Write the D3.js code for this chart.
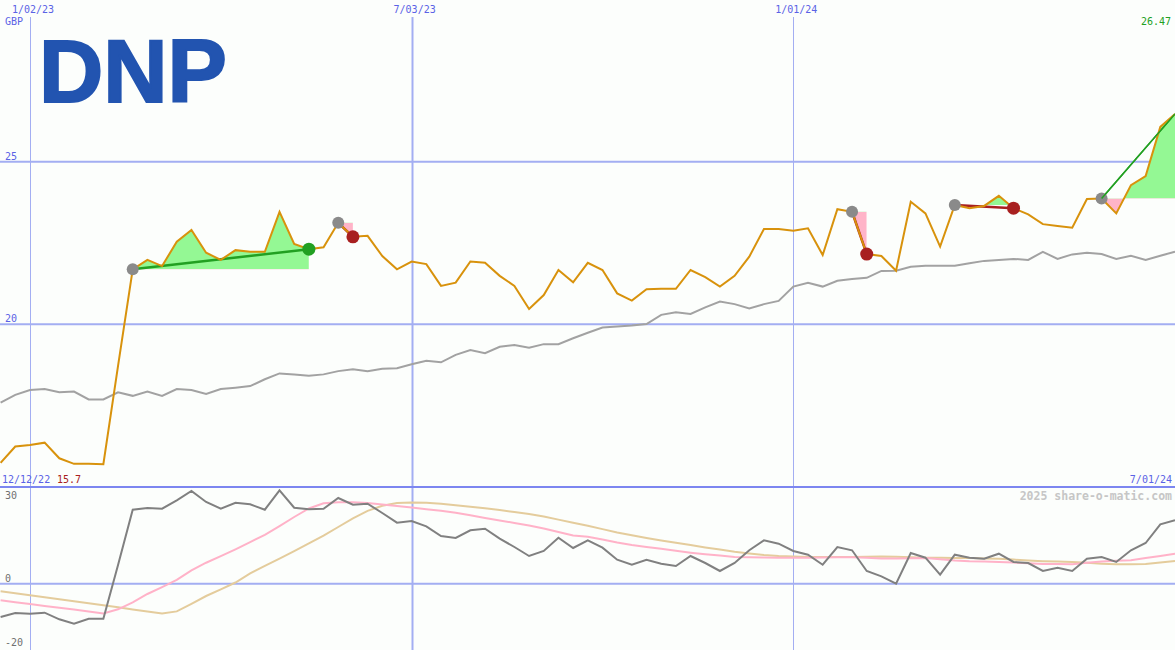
<!DOCTYPE html>
<html><head><meta charset="utf-8">
<script src="https://cdn.jsdelivr.net/npm/d3@7"></script>
<style>body{margin:0;background:#fcfefc} svg{display:block}</style>
</head><body><div id="chart"></div>
<script>
const ticker = "DNP";
const currency = "GBP";
const startDate = new Date(2022,11,19);
const endDate = new Date(2024,6,1);
const firstLabelDate = new Date(2022,11,12);
const gridDates = [new Date(2023,0,2), new Date(2023,6,3), new Date(2024,0,1)];
const priceTicks = [20,25];
const oscTicks = [30,0,-20];
const price = [15.74,16.24,16.29,16.36,15.88,15.71,15.71,15.70,18.72,21.69,
21.98,21.79,22.54,22.90,22.20,21.98,22.28,22.23,22.23,23.46,
22.47,22.31,22.37,23.12,22.69,22.72,22.10,21.69,21.93,21.85,
21.18,21.28,21.93,21.89,21.49,21.18,20.47,20.90,21.67,21.29,
21.89,21.67,20.95,20.73,21.08,21.09,21.09,21.67,21.45,21.16,
21.49,22.08,22.93,22.93,22.88,22.95,22.13,23.54,23.46,22.16,
22.10,21.65,23.77,23.41,22.39,23.67,23.57,23.64,23.95,23.57,
23.38,23.08,23.02,22.97,23.85,23.87,23.41,24.28,24.56,26.07,26.47];
const priceMA = [17.59,17.83,17.98,18.01,17.91,17.93,17.69,17.69,17.91,17.80,
17.93,17.80,18.01,17.98,17.86,18.01,18.05,18.10,18.31,18.49,
18.46,18.42,18.46,18.56,18.62,18.56,18.63,18.65,18.77,18.88,
18.83,19.06,19.21,19.11,19.31,19.36,19.28,19.39,19.39,19.57,
19.74,19.90,19.93,19.96,20.01,20.29,20.37,20.32,20.52,20.70,
20.62,20.49,20.62,20.72,21.16,21.28,21.16,21.34,21.39,21.43,
21.64,21.65,21.77,21.80,21.80,21.80,21.88,21.95,21.98,22.01,
21.98,22.23,22.01,22.15,22.20,22.16,22.01,22.11,21.98,22.11,22.23];
const osc = [-10.5,-9.24,-9.46,-9.15,-11.23,-12.62,-11.04,-11.04,5.9,23.34,
23.88,23.66,26.31,29.24,25.77,23.66,25.55,25.05,23.34,29.46,
23.97,23.47,23.66,27.03,24.92,25.24,22.30,19.24,19.78,18.11,
15.05,14.42,16.85,17.35,14.20,11.58,8.74,10.32,14.51,11.26,
13.69,11.36,7.57,5.99,7.57,6.31,5.58,8.74,6.53,4.01,
6.53,10.54,13.69,12.62,10.32,9.15,5.99,11.58,10.54,4.01,
2.33,0,9.68,8.20,2.84,9.15,8.20,7.89,9.46,6.85,
6.53,4.01,5.05,4.01,7.89,8.42,6.85,10.54,12.84,18.74,20.0];
const oscFast = [-5.24,-5.84,-6.42,-7.00,-7.60,-8.17,-8.77,-9.37,-8.08,-5.90,
-3.25,-1.07,1.20,4.23,6.62,8.68,10.85,13.12,15.43,18.17,
21.04,23.72,25.39,25.68,25.68,25.46,25.02,24.51,24.01,23.50,
23.00,22.40,21.58,20.76,19.94,19.18,18.39,17.41,16.31,15.24,
14.79,13.94,13.00,12.24,11.61,11.01,10.38,9.78,9.27,8.86,
8.45,8.36,8.26,8.20,8.20,8.20,8.26,8.36,8.36,8.17,
7.95,7.95,8.04,8.08,7.73,7.35,7.10,6.97,6.85,6.66,
6.44,6.25,6.18,6.12,6.59,6.97,7.22,7.38,8.08,8.77,9.46];
const oscSlow = [-2.40,-3.03,-3.66,-4.29,-4.89,-5.52,-6.15,-6.78,-7.44,-8.11,
-8.77,-9.43,-8.74,-6.37,-3.88,-1.80,0.38,3.25,5.62,7.89,
10.25,12.71,15.17,17.89,20.63,22.97,24.57,25.46,25.62,25.55,
25.20,24.73,24.26,23.82,23.22,22.59,21.99,21.23,20.22,19.24,
18.26,17.22,16.18,15.27,14.45,13.66,12.90,12.18,11.45,10.76,
10.06,9.53,9.05,8.71,8.58,8.45,8.42,8.42,8.45,8.52,
8.61,8.52,8.36,8.20,8.17,8.14,8.08,7.98,7.89,7.60,
7.32,7.10,6.97,6.88,6.59,6.31,6.12,6.12,6.25,6.72,7.16];
const tradeStart = [9,23,58,65,75];
const tradeEnd = [21,24,59,69,80];
const tradeOpen = [false,false,false,false,true];
const watermark = "2025 share-o-matic.com";

const W = 1175, H = 650;
const dates = d3.timeMonday.range(startDate, d3.timeDay.offset(endDate, 1));
const fmt = d3.timeFormat("%-m/%d/%y");

const x = d3.scaleTime().domain([startDate, endDate]).range([0.6, W]);
const yP = d3.scaleLinear().domain([20, 25]).range([324.3, 161.7]);
const yO = d3.scaleLinear().domain([0, 30]).range([583.7, 488.6]);

const svg = d3.select("#chart").append("svg").attr("width", W).attr("height", H);
svg.append("rect").attr("width", W).attr("height", H).attr("fill", "#fcfefc");

const defs = svg.append("defs");
defs.append("clipPath").attr("id", "topClip").append("rect").attr("x", 0).attr("y", 0).attr("width", W).attr("height", 486);
defs.append("clipPath").attr("id", "botClip").append("rect").attr("x", 0).attr("y", 488).attr("width", W).attr("height", H - 488);

const gridCol = "#a3aef2";
const mono = "'DejaVu Sans Mono', monospace";
const blue = "#5a62e6";

// vertical grid lines
svg.append("g").selectAll("line").data(gridDates).join("line")
  .attr("x1", d => Math.round(x(d)) + 0.5).attr("x2", d => Math.round(x(d)) + 0.5)
  .attr("y1", 17).attr("y2", H)
  .attr("stroke", gridCol).attr("stroke-width", (d, i) => i === 1 ? 2 : 1);

// horizontal price grid
svg.append("g").selectAll("line").data(priceTicks).join("line")
  .attr("x1", 0).attr("x2", W).attr("y1", d => yP(d)).attr("y2", d => yP(d))
  .attr("stroke", gridCol).attr("stroke-width", 2);

// zero line in oscillator panel
svg.append("line").attr("x1", 0).attr("x2", W).attr("y1", yO(0)).attr("y2", yO(0))
  .attr("stroke", gridCol).attr("stroke-width", 2);

// separator
svg.append("line").attr("x1", 0).attr("x2", W).attr("y1", 487).attr("y2", 487)
  .attr("stroke", "#7c86f0").attr("stroke-width", 2);

// trade fills
const gTop = svg.append("g").attr("clip-path", "url(#topClip)");
tradeStart.forEach((s, t) => {
  const e = tradeEnd[t];
  const base = price[s];
  const idx = d3.range(s, e + 1);
  const area = d3.area().x(i => x(dates[i])).y0(yP(base)).y1(i => yP(price[i]));
  const xa = x(dates[s]), xb = x(dates[e]);
  defs.append("clipPath").attr("id", "up" + t).append("rect")
    .attr("x", xa).attr("y", 0).attr("width", xb - xa).attr("height", yP(base));
  defs.append("clipPath").attr("id", "dn" + t).append("rect")
    .attr("x", xa).attr("y", yP(base)).attr("width", xb - xa).attr("height", 487 - yP(base));
  gTop.append("path").attr("d", area(idx)).attr("fill", "#94f894").attr("clip-path", `url(#up${t})`);
  gTop.append("path").attr("d", area(idx)).attr("fill", "#ffb4c8").attr("clip-path", `url(#dn${t})`);
});

const lineP = d => d3.line().x((v, i) => x(dates[i])).y(v => yP(v))(d);
gTop.append("path").attr("d", lineP(priceMA)).attr("fill", "none").attr("stroke", "#a2a2a2").attr("stroke-width", 2);

// trade lines (under the price line)
tradeStart.forEach((s, t) => {
  const e = tradeEnd[t];
  const win = price[e] >= price[s];
  const col = win ? "#22a022" : "#a82020";
  gTop.append("line").attr("x1", x(dates[s])).attr("y1", yP(price[s]))
    .attr("x2", x(dates[e])).attr("y2", yP(price[e]))
    .attr("stroke", col).attr("stroke-width", tradeOpen[t] ? 1.5 : (win ? 2.5 : 2.5));
});

gTop.append("path").attr("d", lineP(price)).attr("fill", "none").attr("stroke", "#d8920c").attr("stroke-width", 2);

// trade dots
tradeStart.forEach((s, t) => {
  const e = tradeEnd[t];
  const win = price[e] >= price[s];
  gTop.append("circle").attr("cx", x(dates[s])).attr("cy", yP(price[s])).attr("r", 6).attr("fill", "#8a8a8a");
  if (!tradeOpen[t]) {
    gTop.append("circle").attr("cx", x(dates[e])).attr("cy", yP(price[e])).attr("r", 6.5)
      .attr("fill", win ? "#22a022" : "#a82020");
  }
});
// open trade line on top
tradeStart.forEach((s, t) => {
  if (!tradeOpen[t]) return;
  const e = tradeEnd[t];
  gTop.append("line").attr("x1", x(dates[s])).attr("y1", yP(price[s]))
    .attr("x2", x(dates[e])).attr("y2", yP(price[e]))
    .attr("stroke", "#22a022").attr("stroke-width", 1.5);
});

// oscillator panel
const gBot = svg.append("g").attr("clip-path", "url(#botClip)");
const lineO = d => d3.line().x((v, i) => x(dates[i])).y(v => yO(v))(d);
gBot.append("path").attr("d", lineO(oscSlow)).attr("fill", "none").attr("stroke", "#e4cc9c").attr("stroke-width", 2);
gBot.append("path").attr("d", lineO(oscFast)).attr("fill", "none").attr("stroke", "#ffb2c8").attr("stroke-width", 2);
gBot.append("path").attr("d", lineO(osc)).attr("fill", "none").attr("stroke", "#808080").attr("stroke-width", 2);

// texts
svg.append("g").selectAll("text").data(gridDates).join("text")
  .attr("x", d => x(d) + 3).attr("y", 13).attr("text-anchor", "middle")
  .attr("font-family", mono).attr("font-size", 10).attr("fill", blue).text(d => fmt(d));
svg.append("text").attr("x", 5).attr("y", 25).attr("font-family", mono).attr("font-size", 10).attr("fill", blue).text(currency);
svg.append("text").attr("x", 39).attr("y", 101.5).attr("font-family", "'Liberation Sans', Arial, sans-serif")
  .attr("font-weight", "bold").attr("font-size", 89).attr("fill", "#2254b0")
  .attr("stroke", "#2254b0").attr("stroke-width", 2).attr("stroke-linejoin", "miter").text(ticker);
svg.append("text").attr("x", 1171).attr("y", 25).attr("text-anchor", "end").attr("font-family", mono)
  .attr("font-size", 10).attr("fill", "#22a022").text(String(price[price.length - 1]));
svg.append("g").selectAll("text").data(priceTicks).join("text")
  .attr("x", 5).attr("y", d => yP(d) - 2).attr("font-family", mono).attr("font-size", 10).attr("fill", blue).text(d => d);
svg.append("text").attr("x", 2).attr("y", 483).attr("font-family", mono).attr("font-size", 10).attr("fill", blue).text(fmt(firstLabelDate));
svg.append("text").attr("x", 57).attr("y", 483).attr("font-family", mono).attr("font-size", 10).attr("fill", "#a82020").text(String(d3.min(price)));
svg.append("text").attr("x", 1172).attr("y", 483).attr("text-anchor", "end").attr("font-family", mono).attr("font-size", 10).attr("fill", blue).text(fmt(endDate));
svg.append("text").attr("x", 1172).attr("y", 500).attr("text-anchor", "end").attr("font-family", mono)
  .attr("font-size", 11.5).attr("font-weight", "bold").attr("fill", "#c6c6c6").text(watermark);
svg.append("g").selectAll("text").data(oscTicks).join("text")
  .attr("x", 5).attr("y", d => Math.max(yO(d) - 1.5, 499)).attr("font-family", mono).attr("font-size", 10)
  .attr("fill", "#707070").text(d => d);
</script></body></html>
